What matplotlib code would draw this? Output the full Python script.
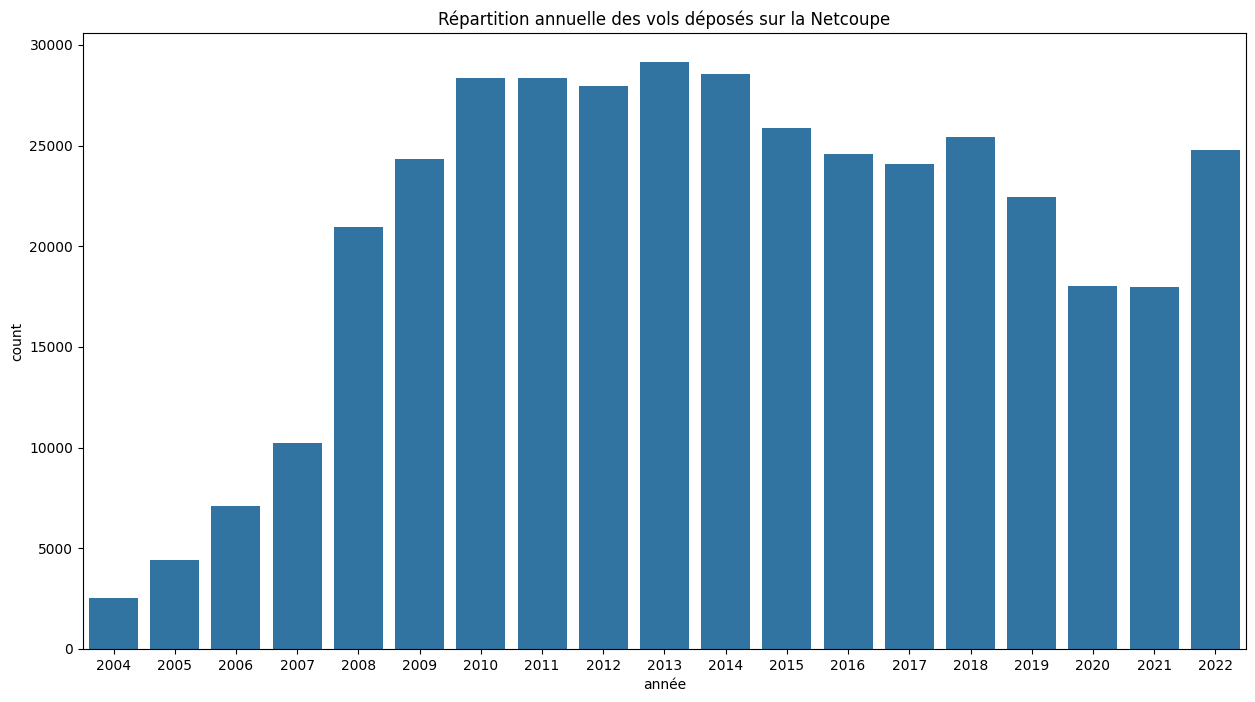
import matplotlib
matplotlib.use("Agg")
import matplotlib.pyplot as plt
import seaborn as sns

# yearly counts
annees = [2004, 2005, 2006, 2007, 2008, 2009, 2010, 2011, 2012, 2013,
          2014, 2015, 2016, 2017, 2018, 2019, 2020, 2021, 2022]
counts = [2530, 4420, 7105, 10235, 20940, 24315, 28380, 28380, 27980, 29135,
          28535, 25890, 24605, 24070, 25450, 22430, 18010, 17965, 24760]

fig = plt.figure(figsize=(12.55, 7.02), dpi=100)
ax = fig.add_axes([0.0661, 0.0755, 0.9267, 0.8775])

sns.barplot(x=[str(a) for a in annees], y=counts, color="#1f77b4", ax=ax)

ax.set_title("Répartition annuelle des vols déposés sur la Netcoupe")
ax.set_xlabel("année")
ax.set_ylabel("count")

fig.savefig("out.png", dpi=100)
